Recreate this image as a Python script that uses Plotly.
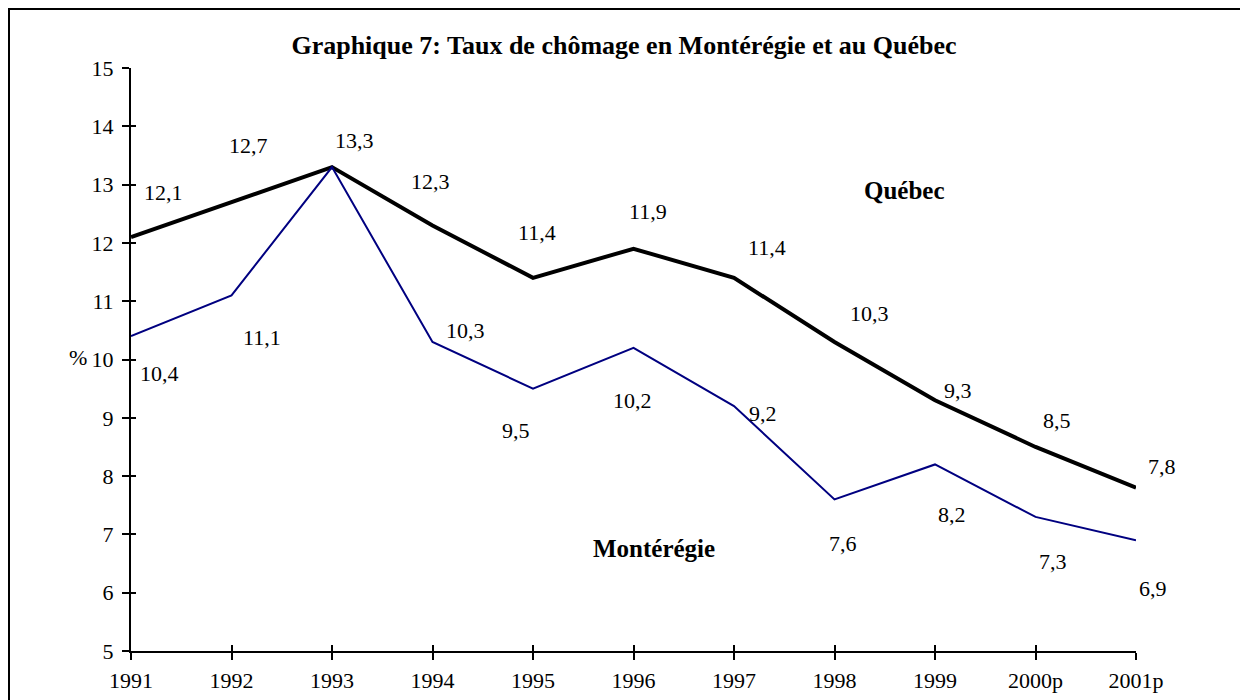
import plotly.graph_objects as go

years = ["1991", "1992", "1993", "1994", "1995", "1996", "1997", "1998", "1999", "2000p", "2001p"]
quebec = [12.1, 12.7, 13.3, 12.3, 11.4, 11.9, 11.4, 10.3, 9.3, 8.5, 7.8]
monteregie = [10.4, 11.1, 13.3, 10.3, 9.5, 10.2, 9.2, 7.6, 8.2, 7.3, 6.9]
quebec_labels = ["12,1", "12,7", "13,3", "12,3", "11,4", "11,9", "11,4", "10,3", "9,3", "8,5", "7,8"]
monteregie_labels = ["10,4", "11,1", "", "10,3", "9,5", "10,2", "9,2", "7,6", "8,2", "7,3", "6,9"]
y_ticks = [5, 6, 7, 8, 9, 10, 11, 12, 13, 14, 15]

# pixel label offsets (style)
q_shift = [(32, 45), (17, 57), (22, 27), (-2, 44), (4, 45), (14, 37), (33, 30), (35, 29), (23, 10), (21, 26), (26, 21)]
m_shift = [(28, -37), (30, -42), (0, 0), (33, 12), (-17, -42), (-1, -53), (29, -7), (8, -44), (17, -50), (17, -45), (17, -48)]

FONT = "Liberation Serif"
LBL = 22
xi = list(range(len(years)))

fig = go.Figure()
fig.add_trace(go.Scatter(x=xi, y=quebec, mode="lines", line=dict(color="black", width=4),
                         name="Québec", showlegend=False))
fig.add_trace(go.Scatter(x=xi, y=monteregie, mode="lines", line=dict(color="#000080", width=2),
                         name="Montérégie", showlegend=False))

anns = []
for i, (v, t, s) in enumerate(zip(quebec, quebec_labels, q_shift)):
    if t:
        anns.append(dict(x=i, y=v, text=t, showarrow=False, xshift=s[0], yshift=s[1],
                         xanchor="center", yanchor="middle",
                         font=dict(family=FONT, size=LBL, color="black")))
for i, (v, t, s) in enumerate(zip(monteregie, monteregie_labels, m_shift)):
    if t:
        anns.append(dict(x=i, y=v, text=t, showarrow=False, xshift=s[0], yshift=s[1],
                         xanchor="center", yanchor="middle",
                         font=dict(family=FONT, size=LBL, color="black")))

PW, PH = 1005, 583
anns.append(dict(xref="paper", yref="paper", x=(904 - 131) / PW, y=(651 - 190) / PH, text="<b>Québec</b>",
                 showarrow=False, xanchor="center", yanchor="middle",
                 font=dict(family=FONT, size=25, color="black")))
anns.append(dict(xref="paper", yref="paper", x=(654 - 131) / PW, y=(651 - 548) / PH, text="<b>Montérégie</b>",
                 showarrow=False, xanchor="center", yanchor="middle",
                 font=dict(family=FONT, size=25, color="black")))
anns.append(dict(xref="paper", yref="paper", x=(78 - 131) / PW, y=(651 - 357) / PH, text="%",
                 showarrow=False, xanchor="center", yanchor="middle",
                 font=dict(family=FONT, size=LBL, color="black")))

fig.update_layout(
    width=1240, height=692,
    margin=dict(l=123, r=112, t=60, b=49),
    paper_bgcolor="white", plot_bgcolor="white",
    title=dict(text="<b>Graphique 7: Taux de chômage en Montérégie et au Québec</b>",
               x=(624 - 8) / 1240, xanchor="center", y=1 - 37 / 692, yanchor="middle",
               font=dict(family=FONT, size=26, color="black")),
    font=dict(family=FONT, size=LBL, color="black"),
    annotations=anns,
    xaxis=dict(range=[0, 10], tickvals=xi, ticktext=years, showgrid=False, zeroline=False,
               showline=True, linecolor="black", linewidth=2, ticks="outside", ticklen=7,
               tickwidth=2, tickcolor="black", ticklabelstandoff=2, automargin=False,
               tickfont=dict(family=FONT, size=LBL, color="black")),
    yaxis=dict(range=[5, 15], tickvals=y_ticks, showgrid=False, zeroline=False,
               showline=True, linecolor="black", linewidth=2, ticks="outside", ticklen=7,
               tickwidth=2, tickcolor="black", ticklabelstandoff=4, automargin=False,
               tickfont=dict(family=FONT, size=LBL, color="black")),
    xaxis2=dict(range=[0, 10], tickvals=xi, overlaying="x", anchor="y", side="bottom",
                showticklabels=False, showgrid=False, zeroline=False, showline=False,
                ticks="inside", ticklen=6, tickwidth=2, tickcolor="black", automargin=False),
    yaxis2=dict(range=[5, 15], tickvals=y_ticks, overlaying="y", anchor="x", side="left",
                showticklabels=False, showgrid=False, zeroline=False, showline=False,
                ticks="inside", ticklen=5, tickwidth=2, tickcolor="black", automargin=False),
    shapes=[dict(type="rect", xref="paper", yref="paper",
                 x0=(9 - 131) / PW, x1=(1246 - 131) / PW,
                 y0=(651 - 706) / PH, y1=(651 - 9) / PH,
                 line=dict(color="black", width=2), layer="below")],
)
# dummy trace to activate overlay axes
fig.add_trace(go.Scatter(x=[None], y=[None], xaxis="x2", yaxis="y2", showlegend=False, hoverinfo="skip"))

fig.write_html("out.html")
